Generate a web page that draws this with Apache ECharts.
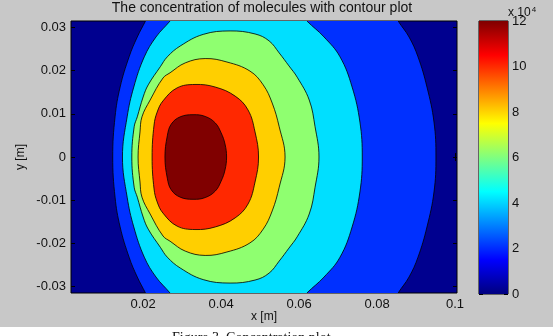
<!DOCTYPE html>
<html>
<head>
<meta charset="utf-8">
<script src="https://cdn.jsdelivr.net/npm/echarts@6/dist/echarts.min.js"></script>
<style>
    html, body { margin: 0; padding: 0; background: #fff; }
    #chart { width: 553px; height: 336px; }
</style>
</head>
<body>
<div id="chart"></div>
<script>
// contour levels (x 10^4) and axis ticks
var levels = [0, 2, 4, 6, 8, 10, 12];
var cbTicks = [0, 2, 4, 6, 8, 10, 12];
var xTicks = [0.02, 0.04, 0.06, 0.08, 0.1];
var yTicks = [-0.03, -0.02, -0.01, 0, 0.01, 0.02, 0.03];

// outlines [x, y] of the region above each level
var c2 = [[0.0122, 0], [0.0128, 0.0093], [0.0141, 0.0162], [0.0164, 0.0232], [0.0185, 0.0278], [0.0206, 0.0315], [0.0216, 0.0335],
    [0.0842, 0.0335], [0.0854, 0.0315], [0.0882, 0.0278], [0.0905, 0.0232], [0.0928, 0.0162], [0.0946, 0.0081], [0.0951, 0],
    [0.0946, -0.0081], [0.0928, -0.0162], [0.0905, -0.0232], [0.0882, -0.0278], [0.0854, -0.0315], [0.0842, -0.0335],
    [0.0216, -0.0335], [0.0206, -0.0315], [0.0185, -0.0278], [0.0164, -0.0232], [0.0141, -0.0162], [0.0128, -0.0093]];
var c4 = [[0.0147, 0], [0.0159, 0.0093], [0.0176, 0.0162], [0.0203, 0.0232], [0.0233, 0.0278], [0.0269, 0.0315], [0.0290, 0.0340],
    [0.0595, 0.0340], [0.0620, 0.0315], [0.0664, 0.0278], [0.0705, 0.0232], [0.0736, 0.0162], [0.0756, 0.0081], [0.0762, 0],
    [0.0756, -0.0081], [0.0736, -0.0162], [0.0705, -0.0232], [0.0664, -0.0278], [0.0620, -0.0315], [0.0595, -0.0340],
    [0.0290, -0.0340], [0.0269, -0.0315], [0.0233, -0.0278], [0.0203, -0.0232], [0.0176, -0.0162], [0.0159, -0.0093]];
var c6 = [[0.0171, 0], [0.0177, 0.0070], [0.0185, 0.0093], [0.0200, 0.0139], [0.0213, 0.0167], [0.0244, 0.0209], [0.0262, 0.0232],
    [0.0295, 0.0257], [0.0354, 0.0284], [0.0423, 0.0292], [0.0487, 0.0285], [0.0523, 0.0269], [0.0549, 0.0241], [0.0574, 0.0211],
    [0.0595, 0.0185], [0.0626, 0.0132], [0.0641, 0.0070], [0.0651, 0],
    [0.0641, -0.0070], [0.0626, -0.0132], [0.0595, -0.0185], [0.0574, -0.0211], [0.0549, -0.0241], [0.0523, -0.0269],
    [0.0487, -0.0285], [0.0423, -0.0292], [0.0354, -0.0284], [0.0295, -0.0257], [0.0262, -0.0232], [0.0244, -0.0209],
    [0.0213, -0.0167], [0.0200, -0.0139], [0.0185, -0.0093], [0.0177, -0.0070]];
var c8 = [[0.0187, 0], [0.0192, 0.0058], [0.0197, 0.0093], [0.0218, 0.0132], [0.0251, 0.0183], [0.0269, 0.0195], [0.0308, 0.0218],
    [0.0359, 0.0228], [0.0415, 0.0220], [0.0474, 0.0199], [0.0508, 0.0167], [0.0531, 0.0125], [0.0549, 0.0070], [0.0564, 0],
    [0.0549, -0.0070], [0.0531, -0.0125], [0.0508, -0.0167], [0.0474, -0.0199], [0.0415, -0.0220], [0.0359, -0.0228],
    [0.0308, -0.0218], [0.0269, -0.0195], [0.0251, -0.0183], [0.0218, -0.0132], [0.0197, -0.0093], [0.0192, -0.0058]];
var c10 = [[0.0223, 0], [0.0228, 0.0074], [0.0236, 0.0104], [0.0251, 0.0130], [0.0287, 0.0160], [0.0333, 0.0168], [0.0385, 0.0162],
    [0.0436, 0.0141], [0.0469, 0.0109], [0.0487, 0.0058], [0.0496, 0],
    [0.0487, -0.0058], [0.0469, -0.0109], [0.0436, -0.0141], [0.0385, -0.0162], [0.0333, -0.0168], [0.0287, -0.0160],
    [0.0251, -0.0130], [0.0236, -0.0104], [0.0228, -0.0074]];
var c12 = [[0.0256, 0], [0.0262, 0.0049], [0.0272, 0.0076], [0.0295, 0.0093], [0.0328, 0.0098], [0.0359, 0.0094], [0.0385, 0.0079],
    [0.0400, 0.0056], [0.0410, 0.0030], [0.0414, 0],
    [0.0410, -0.0030], [0.0400, -0.0056], [0.0385, -0.0079], [0.0359, -0.0094], [0.0328, -0.0098], [0.0295, -0.0093],
    [0.0272, -0.0076], [0.0262, -0.0049]];

var contours = [c2, c4, c6, c8, c10, c12];
// jet colours for the bands 0,2,4,...,12
var bandColors = ['#00008F', '#0030FF', '#00DFFF', '#8FFF70', '#FFCF00', '#FF2800', '#800000'];

var chart = echarts.init(document.getElementById('chart'));
var font = 'Liberation Sans, Arial, sans-serif';
var tick = {show: true, inside: true, length: 4, lineStyle: {color: '#000', width: 1}};

function fmt(v) {
    if (Math.abs(v) < 1e-9) return '0';
    if (Math.abs(v - 0.1) < 1e-9) return '0.1';
    return v.toFixed(2);
}

function renderBand(params, api) {
    var pts = contours[params.dataIndex].map(function (p) {
        return api.coord(p);
    });
    return {
        type: 'polygon',
        shape: {points: pts, smooth: 0.4},
        style: {fill: bandColors[params.dataIndex + 1], stroke: '#000', lineWidth: 0.8}
    };
}

var option = {
    backgroundColor: '#C8C8C8',
    animation: false,
    grid: [
        {left: 71, top: 21, width: 386, height: 272, show: true, backgroundColor: bandColors[0], borderColor: '#000', borderWidth: 1},
        {left: 479, top: 21, width: 29, height: 273, show: true, backgroundColor: 'transparent', borderColor: '#000', borderWidth: 1}
    ],
    xAxis: [
        {
            type: 'value', gridIndex: 0, min: 0.0015, max: 0.1005,
            axisLine: {show: false}, splitLine: {show: false},
            axisTick: Object.assign({customValues: xTicks}, tick),
            axisLabel: {customValues: xTicks, formatter: fmt, color: '#111', fontSize: 13, fontFamily: font, margin: 5},
            name: 'x [m]', nameLocation: 'middle', nameGap: 18, nameMoveOverlap: false,
            nameTextStyle: {color: '#111', fontSize: 12, fontFamily: font}
        },
        {
            type: 'value', gridIndex: 0, position: 'top', min: 0.0015, max: 0.1005,
            axisLine: {show: false}, splitLine: {show: false},
            axisTick: Object.assign({customValues: xTicks}, tick),
            axisLabel: {show: false}
        },
        {
            type: 'category', gridIndex: 1, data: [''],
            axisLine: {show: false}, axisTick: {show: false}, axisLabel: {show: false}
        }
    ],
    yAxis: [
        {
            type: 'value', gridIndex: 0, min: -0.0315, max: 0.0315,
            axisLine: {show: false}, splitLine: {show: false},
            axisTick: Object.assign({customValues: yTicks}, tick),
            axisLabel: {customValues: yTicks, formatter: fmt, color: '#111', fontSize: 13, fontFamily: font, margin: 5},
            name: 'y [m]', nameLocation: 'middle', nameGap: 44, nameRotate: 90, nameMoveOverlap: false,
            nameTextStyle: {color: '#111', fontSize: 12, fontFamily: font}
        },
        {
            type: 'value', gridIndex: 0, position: 'right', min: -0.0315, max: 0.0315,
            axisLine: {show: false}, splitLine: {show: false},
            axisTick: Object.assign({customValues: yTicks}, tick),
            axisLabel: {show: false}
        },
        {
            type: 'value', gridIndex: 1, position: 'right', min: 0, max: 12, interval: 2,
            axisLine: {show: false}, splitLine: {show: false},
            axisTick: tick,
            axisLabel: {color: '#111', fontSize: 13, fontFamily: font, margin: 4}
        },
        {
            type: 'value', gridIndex: 1, position: 'left', min: 0, max: 12, interval: 2,
            axisLine: {show: false}, splitLine: {show: false},
            axisTick: tick, axisLabel: {show: false}
        }
    ],
    series: [
        {
            type: 'custom', xAxisIndex: 0, yAxisIndex: 0, clip: true,
            data: contours.map(function (c) { return c[0]; }),
            renderItem: renderBand
        },
        {
            type: 'bar', xAxisIndex: 2, yAxisIndex: 2, barWidth: '100%',
            data: [levels[levels.length - 1]],
            itemStyle: {
                color: new echarts.graphic.LinearGradient(0, 1, 0, 0, [
                    {offset: 0, color: '#00007F'},
                    {offset: 0.125, color: '#0000FF'},
                    {offset: 0.375, color: '#00FFFF'},
                    {offset: 0.625, color: '#FFFF00'},
                    {offset: 0.875, color: '#FF0000'},
                    {offset: 1, color: '#7F0000'}
                ])
            }
        }
    ],
    graphic: [
        {
            type: 'text', x: 262, y: 1,
            style: {text: 'The concentration of molecules with contour plot', fill: '#111', font: '14px ' + font, textAlign: 'center'}
        },
        {
            type: 'text', x: 508, y: 6,
            style: {
                text: 'x 10{s|4}', fill: '#111', font: '12px ' + font,
                rich: {s: {fontSize: 8, verticalAlign: 'top', padding: [0, 0, 6, 1]}}
            }
        },
        {
            type: 'rect', shape: {x: 0, y: 327, width: 553, height: 9},
            style: {fill: '#fff'}
        },
        {
            type: 'text', x: 172, y: 331,
            style: {text: 'Figure 3. Concentration plot', fill: '#111', font: '14px Liberation Serif, Times New Roman, serif'}
        }
    ]
};
chart.setOption(option);
</script>
</body>
</html>
